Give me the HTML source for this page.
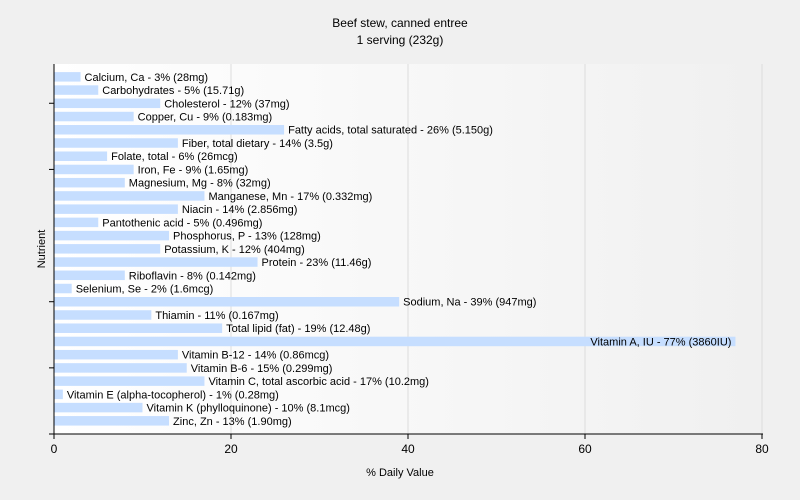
<!DOCTYPE html>
<html><head><meta charset="utf-8"><style>
body{margin:0;background:#f0f0f0;}
svg{display:block;font-family:"Liberation Sans",sans-serif;}
</style></head><body>
<svg id="c" width="800" height="500">
<defs><linearGradient id="g" x1="0" x2="1" y1="0" y2="0"><stop offset="0" stop-color="#ffffff"/><stop offset="1" stop-color="#f0f0f0"/></linearGradient></defs>
<rect width="800" height="500" fill="#f0f0f0"/>
<text x="400" y="27" text-anchor="middle" font-size="12">Beef stew, canned entree</text>
<text x="400" y="44" text-anchor="middle" font-size="12">1 serving (232g)</text>
<rect x="54" y="64" width="708" height="370" fill="url(#g)"/>
<g id="grid"></g><g id="bars"></g><g id="axes"></g>
<text x="400" y="476" text-anchor="middle" font-size="11">% Daily Value</text>
<text transform="translate(45,249) rotate(-90)" text-anchor="middle" font-size="11">Nutrient</text>
</svg>
<script>
const labels=["Calcium, Ca - 3% (28mg)","Carbohydrates - 5% (15.71g)","Cholesterol - 12% (37mg)","Copper, Cu - 9% (0.183mg)","Fatty acids, total saturated - 26% (5.150g)","Fiber, total dietary - 14% (3.5g)","Folate, total - 6% (26mcg)","Iron, Fe - 9% (1.65mg)","Magnesium, Mg - 8% (32mg)","Manganese, Mn - 17% (0.332mg)","Niacin - 14% (2.856mg)","Pantothenic acid - 5% (0.496mg)","Phosphorus, P - 13% (128mg)","Potassium, K - 12% (404mg)","Protein - 23% (11.46g)","Riboflavin - 8% (0.142mg)","Selenium, Se - 2% (1.6mcg)","Sodium, Na - 39% (947mg)","Thiamin - 11% (0.167mg)","Total lipid (fat) - 19% (12.48g)","Vitamin A, IU - 77% (3860IU)","Vitamin B-12 - 14% (0.86mcg)","Vitamin B-6 - 15% (0.299mg)","Vitamin C, total ascorbic acid - 17% (10.2mg)","Vitamin E (alpha-tocopherol) - 1% (0.28mg)","Vitamin K (phylloquinone) - 10% (8.1mcg)","Zinc, Zn - 13% (1.90mg)"];
const values=[3,5,12,9,26,14,6,9,8,17,14,5,13,12,23,8,2,39,11,19,77,14,15,17,1,10,13];
const xTicks=[0,20,40,60,80];
const NS="http://www.w3.org/2000/svg";
const x=v=>54+v*708/80;
const y=i=>76.8+i*13.23;
function mk(t,a,p){const e=document.createElementNS(NS,t);for(const k in a)e.setAttribute(k,a[k]);p.appendChild(e);return e;}
const G=document.getElementById('grid'),B=document.getElementById('bars'),A=document.getElementById('axes');
xTicks.forEach(t=>{
 if(t>0){const l=mk('line',{x1:x(t),x2:x(t),y1:64,y2:434,stroke:'#dddddd'},G);
 
 }
 const tk=mk('line',{x1:x(t),x2:x(t),y1:434,y2:439,stroke:'#000'},A);
 
 
 const tx=mk('text',{x:x(t),y:453,'text-anchor':'middle','font-size':12},A);tx.textContent=t;
 
 
});
values.forEach((v,i)=>{
 const r=mk('rect',{x:x(0),y:y(i)-4.7,width:x(v)-x(0),height:9.5,fill:'#c6deff'},B);
 
 
 const t=mk('text',{x:x(v)+4,y:y(i)+4,'font-size':11},B);t.textContent=labels[i];
 if(x(v)+4+t.getComputedTextLength()>790){t.setAttribute('x',x(v)-4);t.setAttribute('text-anchor','end');}
 
 
});
[2,7,17,22].forEach(i=>{const l=mk('line',{x1:49,x2:54,y1:y(i),y2:y(i),stroke:'#000'},A);
 
 });
const ya=mk('line',{x1:54,x2:54,y1:64,y2:434,stroke:'#000'},A);


const xa=mk('line',{x1:49,x2:763,y1:434,y2:434,stroke:'#000'},A);


</script>
</body></html>
